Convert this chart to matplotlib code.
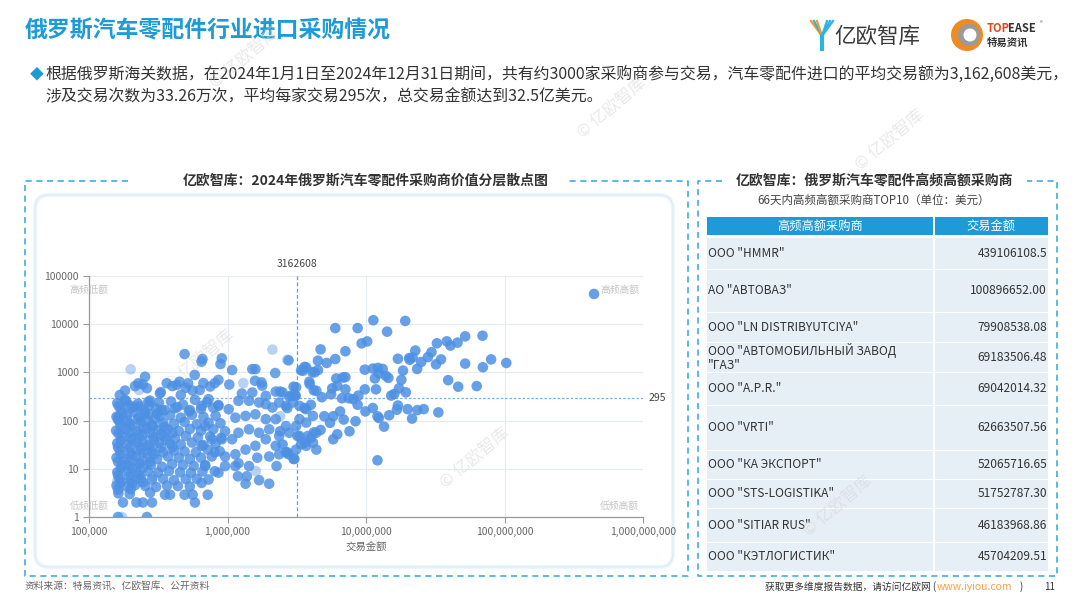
import matplotlib.pyplot as plt
from matplotlib.patches import Rectangle, FancyBboxPatch, Circle
from matplotlib.lines import Line2D
from matplotlib.ticker import FixedLocator, NullLocator

plt.rcParams['font.family'] = ['Noto Sans CJK SC', 'DejaVu Sans']

# ---- values: (transaction amount USD, number of trades) ----
dense_cluster = [
    (4.9e5, 2400), (2.27e5, 594), (3.25e5, 368), (1.67e5, 339), (2.54e5, 815), (3.64e5, 595),
    (4.3e5, 550), (5.2e5, 595), (5.8e5, 885), (6.5e5, 1670), (4.6e5, 340), (1.82e5, 268),
    (2.15e5, 194), (2.68e5, 245), (3.35e5, 166), (4.17e5, 180), (5.35e5, 166), (1.63e5, 120),
    (1.82e5, 420), (2.15e5, 520), (2.45e5, 560), (2.62e5, 470), (3.3e5, 390), (4.0e5, 520),
    (4.5e5, 640), (5.0e5, 480), (5.6e5, 420), (6.3e5, 430),
    (1.6e5, 230), (1.85e5, 255), (2.26e5, 225), (2.76e5, 260), (3.2e5, 235), (3.91e5, 250),
    (4.77e5, 215), (5.82e5, 270), (7.1e5, 240), (8.6e5, 210),
    (1.7e5, 170), (2.04e5, 185), (2.5e5, 160), (3.05e5, 180), (3.54e5, 165), (4.32e5, 190),
    (5.27e5, 155), (6.44e5, 175), (7.9e5, 185),
    (1.58e5, 120), (1.88e5, 130), (2.3e5, 118), (2.7e5, 135), (3.25e5, 122), (3.85e5, 128),
    (4.6e5, 115), (5.54e5, 132), (6.7e5, 120), (8.2e5, 126),
    (1.67e5, 92), (1.97e5, 85), (2.37e5, 95), (2.85e5, 82), (3.43e5, 90), (4.11e5, 86),
    (4.9e5, 94), (6.0e5, 84), (7.3e5, 90), (8.9e5, 88),
    (1.57e5, 62), (1.85e5, 66), (2.22e5, 60), (2.62e5, 68), (3.15e5, 63), (3.72e5, 65),
    (4.45e5, 61), (5.35e5, 67), (6.44e5, 62), (7.9e5, 66), (9.6e5, 60),
    (1.72e5, 47), (2.0e5, 44), (2.42e5, 48), (2.9e5, 45), (3.48e5, 47), (4.17e5, 43),
    (5.0e5, 48), (6.12e5, 45), (7.5e5, 47), (9.0e5, 44),
    (1.6e5, 34), (1.88e5, 32), (2.22e5, 35), (2.66e5, 31), (3.2e5, 34), (3.85e5, 33),
    (4.6e5, 32), (5.54e5, 35), (6.7e5, 31), (8.2e5, 33),
    (1.67e5, 24), (2.0e5, 22), (2.37e5, 25), (2.85e5, 23), (3.43e5, 22), (4.11e5, 24),
    (4.9e5, 23), (5.9e5, 22), (7.2e5, 25), (8.8e5, 23),
    (1.58e5, 17), (1.85e5, 16), (2.18e5, 18), (2.62e5, 17), (3.1e5, 16), (3.72e5, 18),
    (4.45e5, 17), (5.35e5, 16), (6.44e5, 17), (7.7e5, 18),
    (1.72e5, 12), (1.97e5, 11.5), (2.33e5, 12.5), (2.8e5, 12), (3.37e5, 11), (3.98e5, 12.5),
    (4.77e5, 12), (5.7e5, 11.5), (6.9e5, 12),
    (1.6e5, 8.5), (1.88e5, 9), (2.22e5, 8.2), (2.66e5, 8.8), (3.15e5, 8.4), (3.78e5, 9),
    (4.54e5, 8.5), (5.45e5, 8.3), (6.6e5, 8.8),
    (1.67e5, 6.2), (2.0e5, 5.9), (2.37e5, 6.3), (2.85e5, 6), (3.43e5, 6.2), (4.11e5, 5.8),
    (5.0e5, 6.1), (6.0e5, 6.2),
    (1.58e5, 4.5), (1.85e5, 4.3), (2.15e5, 4.6), (2.55e5, 4.4), (3.05e5, 4.2), (3.66e5, 4.5),
    (4.38e5, 4.4), (5.35e5, 4.3),
    (1.63e5, 3.1), (1.97e5, 3.0), (2.76e5, 3.2), (3.54e5, 2.9), (3.85e5, 2.9), (4.9e5, 2.9),
    (5.6e5, 2.9), (1.76e5, 2), (2.2e5, 2), (2.45e5, 2), (2.85e5, 2), (5.82e5, 2),
    (1.62e5, 1), (2.62e5, 1),
    (1.64e5, 200), (1.95e5, 210), (2.3e5, 195), (2.7e5, 205), (3.1e5, 140), (1.75e5, 145),
    (2.1e5, 150), (2.55e5, 145), (1.62e5, 105), (1.9e5, 100), (2.25e5, 108), (2.65e5, 102),
    (3.0e5, 110), (1.7e5, 75), (2.05e5, 78), (2.45e5, 73), (2.9e5, 76), (3.5e5, 74),
    (1.63e5, 54), (1.95e5, 56), (2.3e5, 53), (2.75e5, 55), (3.3e5, 52), (4.0e5, 55),
    (1.7e5, 39), (2.05e5, 40), (2.45e5, 38), (2.95e5, 39), (3.6e5, 40), (1.62e5, 28),
    (1.95e5, 27), (2.3e5, 29), (2.75e5, 28), (3.3e5, 27), (4.0e5, 28), (1.7e5, 20),
    (2.05e5, 19.5), (2.45e5, 21), (2.95e5, 20), (1.62e5, 14), (1.95e5, 14.5), (2.3e5, 13.5),
    (2.75e5, 14), (1.7e5, 10.3), (2.05e5, 10), (2.45e5, 10.5), (1.62e5, 7.2), (1.95e5, 7),
    (2.3e5, 7.3), (1.7e5, 5.2), (2.05e5, 5), (2.45e5, 5.3), (1.62e5, 3.7), (2.0e5, 3.8),
]

middle_buyers = [
    (2.76e6, 1780), (6.6e5, 1900), (9.1e5, 1960), (8.9e5, 1490), (1.08e6, 1120), (1.51e6, 1170),
    (1.59e6, 1170), (2.21e6, 970), (3.5e6, 1080), (3.7e6, 1270), (4.26e6, 1000), (1.58e6, 670),
    (1.76e6, 620), (1.78e6, 530), (1.03e6, 560), (8.6e5, 700), (8.1e5, 600), (6.7e5, 600),
    (7.5e5, 510), (1.27e6, 365), (1.51e6, 383), (1.89e6, 327), (2.23e6, 400), (2.5e6, 383),
    (3.13e6, 490), (3.09e6, 327), (2.79e6, 316), (3.92e6, 570), (4.38e6, 415), (2.36e6, 237),
    (2.64e6, 202), (2.96e6, 237), (3.31e6, 202), (3.7e6, 172), (4.14e6, 125), (2.11e6, 187),
    (1.89e6, 219), (1.69e6, 237), (1.43e6, 257), (1.2e6, 257), (1.02e6, 172), (8.6e5, 202),
    (7.3e5, 278), (6.5e5, 202), (1.14e6, 115), (1.35e6, 125), (1.59e6, 135), (1.89e6, 107),
    (2.23e6, 107), (2.64e6, 77), (3.13e6, 77), (3.7e6, 91), (4.38e6, 56), (3.31e6, 48),
    (2.79e6, 56), (2.36e6, 48), (2.0e6, 66), (1.69e6, 56), (1.43e6, 66), (1.2e6, 56),
    (1.08e6, 41), (9.1e5, 41), (7.7e5, 41), (6.9e5, 77), (6.5e5, 30), (8.1e5, 22),
    (9.6e5, 18), (1.14e6, 20), (1.35e6, 25), (1.59e6, 30), (1.89e6, 41), (2.23e6, 30),
    (2.64e6, 22), (3.13e6, 25), (3.7e6, 30), (4.14e6, 35), (3.04e6, 16), (2.36e6, 20),
    (2.0e6, 18), (1.64e6, 17), (1.43e6, 11.4), (1.2e6, 13), (1.14e6, 11.4), (9.6e5, 11.4),
    (8.1e5, 8.9), (6.9e5, 11.4), (7.3e5, 6.0), (8.6e5, 8.3), (6.5e5, 5.1), (7.2e5, 2.9),
    (1.19e6, 7.0), (1.38e6, 7.0), (1.35e6, 4.9), (1.69e6, 5.8), (2.0e6, 4.9), (2.76e6, 20),
    (2.26e6, 11.4), (3.31e6, 107), (3.8e6, 48), (4.38e6, 25),
]

upper_buyers = [
    (4.43e8, 42400),
    (1.13e7, 12100), (1.92e7, 11700), (6.0e6, 8300), (8.7e6, 8300), (1.42e7, 7000),
    (9.3e6, 4000), (1.02e7, 4400), (4.7e6, 3000), (7.1e6, 2750), (4.5e6, 1750),
    (5.2e6, 1570), (6.0e6, 1890), (3.6e6, 1300), (3.4e6, 1110), (4.1e6, 1020), (4.5e6, 1120),
    (9.8e6, 1140), (1.12e7, 1200), (1.22e7, 1240), (1.32e7, 1180), (1.39e7, 850), (1.45e7, 770),
    (1.16e7, 750), (1.24e7, 950), (1.7e7, 1920), (1.85e7, 1090), (2.05e7, 1980), (2.17e7, 2050),
    (2.27e7, 2840), (2.07e7, 1830), (2.5e7, 1640), (2.34e7, 1180), (2.8e7, 2080), (2.97e7, 2630),
    (3.25e7, 4020), (3.48e7, 1860), (3.2e7, 1470), (3.83e7, 4410), (4.07e7, 3600), (4.58e7, 4150),
    (5.2e7, 5590), (6.94e7, 5770), (5.2e7, 1520), (6.98e7, 1280), (8.0e7, 1860), (1.03e8, 1570),
    (3.92e7, 690), (4.63e7, 505), (6.3e7, 520), (1.8e7, 700), (1.73e7, 467), (1.94e7, 386),
    (1.6e7, 357), (1.52e7, 330), (1.18e7, 445), (9.8e6, 445), (7.1e6, 445), (6.1e6, 748),
    (6.8e6, 783), (7.1e6, 796), (6.2e6, 529), (5.7e6, 467), (3.9e6, 640), (4.2e6, 425),
    (3.0e6, 505), (2.4e6, 400), (2.9e6, 330), (3.1e6, 330), (4.8e6, 305), (5.6e6, 352),
    (6.7e6, 291), (7.5e6, 291), (8.1e6, 278), (8.8e6, 330), (8.7e6, 213), (9.9e6, 155),
    (1.12e7, 182), (1.21e7, 123), (1.24e7, 113), (1.35e7, 75), (1.47e7, 129), (1.67e7, 168),
    (1.7e7, 206), (2.0e7, 173), (2.15e7, 110), (2.35e7, 165), (2.61e7, 173), (3.33e7, 148),
    (1.21e7, 15), (2.7e6, 182), (3.6e6, 182), (4.0e6, 213), (5.0e6, 123), (5.5e6, 90),
    (5.8e6, 123), (6.5e6, 155), (6.9e6, 105), (8.4e6, 97), (7.6e6, 60), (6.2e6, 52),
    (5.8e6, 41), (4.7e6, 64), (4.2e6, 57), (4.0e6, 44), (3.6e6, 35), (3.2e6, 48),
    (3.4e6, 32), (3.0e6, 16), (2.7e6, 22), (2.5e6, 32), (2.4e6, 60),
]

faint_buyers = [
    (2.0e5, 1160), (2.11e6, 2970), (2.7e6, 1830), (2.4e6, 123), (1.73e5, 1),
    (1.6e5, 5.5), (2.9e5, 7), (1.6e6, 9), (2.3e5, 430), (1.3e6, 600),
]

avg_amount = 3162608
avg_trades = 295

x_ticks = [1e5, 1e6, 1e7, 1e8, 1e9]
x_tick_labels = ['100,000', '1,000,000', '10,000,000', '100,000,000', '1,000,000,000']
y_ticks = [1, 10, 100, 1000, 10000, 100000]
y_tick_labels = ['1', '10', '100', '1000', '10000', '100000']
quadrant_labels = ['高频低额', '高频高额', '低频低额', '低频高额']

top_buyers = ['OOO "HMMR"', 'AO "АВТОВАЗ"', 'OOO "LN DISTRIBYUTCIYA"',
              'ООО "АВТОМОБИЛЬНЫЙ ЗАВОД\n"ГАЗ"', 'OOO "A.P.R."', 'OOO "VRTI"',
              'ООО "КА ЭКСПОРТ"', 'OOO "STS-LOGISTIKA"', 'OOO "SITIAR RUS"', 'ООО "КЭТЛОГИСТИК"']
top_amounts = ['439106108.5', '100896652.00', '79908538.08', '69183506.48', '69042014.32',
               '62663507.56', '52065716.65', '51752787.30', '46183968.86', '45704209.51']

BLUE = '#1E9BD7'
DOT = '#4D90E3'
GREY = '#666666'

fig = plt.figure(figsize=(10.8, 6.06), dpi=100)
bg = fig.add_axes([0, 0, 1, 1])
bg.set_xlim(0, 1080)
bg.set_ylim(606, 0)
bg.axis('off')

# header
bg.text(25, 31, '俄罗斯汽车零配件行业进口采购情况', fontsize=16.5, fontweight='bold',
        color=BLUE, va='center')
bg.text(30, 74, '◆', fontsize=10, color=BLUE, va='center')
bg.text(45, 74, '根据俄罗斯海关数据，在2024年1月1日至2024年12月31日期间，共有约3000家采购商参与交易，'
        '汽车零配件进口的平均交易额为3,162,608美元，', fontsize=11.45, color='#333333', va='center')
bg.text(45, 97, '涉及交易次数为33.26万次，平均每家交易295次，总交易金额达到32.5亿美元。',
        fontsize=11.45, color='#333333', va='center')

# logos
for dx, c in zip([0, 3, 6], ['#F29A2E', '#2BB3E6', '#F29A2E']):
    bg.add_line(Line2D([811 + dx, 822], [21, 36], color=c, lw=1.6))
    bg.add_line(Line2D([833 - dx, 822], [21, 36], color='#2BB3E6', lw=1.6))
bg.add_line(Line2D([822, 822], [36, 49], color='#2BB3E6', lw=3))
bg.text(834, 37, '亿欧智库', fontsize=15.5, color='#3a3a3a', va='center')
bg.add_patch(Circle((967, 35), 16, fc='#F08A22', ec='none'))
bg.add_patch(Circle((969, 35), 11, fc='#9a9a9a', ec='none'))
bg.add_patch(Circle((970, 35), 6.5, fc='white', ec='none'))
bg.text(987, 29, 'TOP', fontsize=8, fontweight='bold', color='#E5461E', va='center')
bg.text(1008, 29, 'EASE', fontsize=8, fontweight='bold', color='#333333', va='center')
bg.text(1040, 24, '®', fontsize=4, color='#333333', va='center')
bg.text(987, 43, '特易资讯', fontsize=7.5, fontweight='bold', color='#333333', va='center')


def dashed(xs, ys):
    bg.add_line(Line2D(xs, ys, color='#2DA7E0', lw=1.1, ls=(0, (4, 3))))


# left panel frame
dashed([128, 25, 25, 688, 688, 565], [181, 181, 576, 576, 181, 181])
bg.text(366, 181, '亿欧智库：2024年俄罗斯汽车零配件采购商价值分层散点图', fontsize=10,
        fontweight='bold', color='#333333', ha='center', va='center')
bg.add_patch(FancyBboxPatch((35, 195), 638, 372, boxstyle='round,pad=0,rounding_size=14',
                            fc='white', ec='#eef6fb', lw=3))
bg.add_patch(FancyBboxPatch((35, 195), 638, 372, boxstyle='round,pad=0,rounding_size=14',
                            fc='none', ec='#d8ecf8', lw=0.8))

# right panel frame
dashed([722, 698, 698, 1057, 1057, 1027], [181, 181, 576, 576, 181, 181])
bg.text(874, 181, '亿欧智库：俄罗斯汽车零配件高频高额采购商', fontsize=10, fontweight='bold',
        color='#333333', ha='center', va='center')
bg.text(874, 200, '66天内高频高额采购商TOP10（单位：美元）', fontsize=8.3, color='#444444',
        ha='center', va='center')

# table
col_l, col_m, col_r = 707, 934, 1048
bg.add_patch(Rectangle((col_l, 217), col_m - col_l - 1, 18, fc=BLUE, ec='none'))
bg.add_patch(Rectangle((col_m + 1, 217), col_r - col_m - 1, 18, fc=BLUE, ec='none'))
bg.text((col_l + col_m) / 2, 226, '高频高额采购商', fontsize=8.8, color='white', ha='center', va='center')
bg.text((col_m + col_r) / 2, 226, '交易金额', fontsize=8.8, color='white', ha='center', va='center')
row_edges = [238, 270, 313, 343, 373, 406, 451, 480, 509, 543, 572]
for i, (name, amt) in enumerate(zip(top_buyers, top_amounts)):
    y0, y1 = row_edges[i], row_edges[i + 1] - 1.5
    bg.add_patch(Rectangle((col_l, y0), col_m - col_l - 1, y1 - y0, fc='#E6EEF6', ec='none'))
    bg.add_patch(Rectangle((col_m + 1, y0), col_r - col_m - 1, y1 - y0, fc='#E6EEF6', ec='none'))
    ym = (y0 + y1) / 2
    bg.text(col_l + 1, ym, name, fontsize=8.6, color='#333333', va='center', linespacing=1.05)
    bg.text(col_r - 1, ym, amt, fontsize=8.6, color='#333333', va='center', ha='right')

# footer
bg.text(25, 586, '资料来源：特易资讯、亿欧智库、公开资料', fontsize=7, color=GREY, va='center')
bg.text(936, 587, '获取更多维度报告数据，请访问亿欧网 (', fontsize=7, color='#333333',
        va='center', ha='right')
bg.text(937, 587, 'www.iyiou.com', fontsize=7.5, color='#F5A04A', va='center')
bg.text(1020, 587, ')', fontsize=7, color='#333333', va='center')
bg.text(1050, 587, '11', fontsize=7, color='#333333', va='center', ha='center')

# watermarks
for wx, wy in [(245, 58), (612, 108), (200, 360), (475, 458), (838, 506), (890, 140)]:
    bg.text(wx, wy, '© 亿欧智库', fontsize=12, color='#d4d4d4', alpha=0.5, rotation=40,
            ha='center', va='center')

# scatter
ax = fig.add_axes([89 / 1080, 1 - 517 / 606, 554 / 1080, 241 / 606])
ax.set_facecolor('none')
ax.set_xscale('log')
ax.set_yscale('log')
ax.set_xlim(x_ticks[0], x_ticks[-1])
ax.set_ylim(y_ticks[0], y_ticks[-1])

for pts, a in [(dense_cluster, 0.82), (middle_buyers, 0.82), (upper_buyers, 0.85), (faint_buyers, 0.4)]:
    xs = [p[0] for p in pts]
    ys = [p[1] for p in pts]
    ax.scatter(xs, ys, s=58, color=DOT, alpha=a, edgecolors='none', zorder=3)

ax.axvline(avg_amount, color='#5E9BE8', lw=0.9, ls=(0, (3, 2)), zorder=2)
ax.axhline(avg_trades, color='#7BAEEB', lw=0.9, ls=(0, (2, 1.5)), zorder=2)
ax.annotate(str(avg_amount), xy=(avg_amount, 1), xycoords=('data', 'axes fraction'),
            xytext=(0, 9), textcoords='offset points', ha='center', va='center',
            fontsize=7.5, color='#444444')
ax.annotate(str(avg_trades), xy=(1, avg_trades), xycoords=('axes fraction', 'data'),
            xytext=(4, 0), textcoords='offset points', ha='left', va='center',
            fontsize=7.5, color='#444444')

ax.xaxis.set_major_locator(FixedLocator(x_ticks))
ax.yaxis.set_major_locator(FixedLocator(y_ticks))
ax.xaxis.set_minor_locator(NullLocator())
ax.yaxis.set_minor_locator(NullLocator())
ax.set_xticklabels(x_tick_labels)
ax.set_yticklabels(y_tick_labels)
ax.tick_params(labelsize=7.5, labelcolor=GREY, color='#999999', length=4, width=0.8)
ax.grid(True, color='#E6EAF3', lw=0.8, zorder=0)
ax.set_axisbelow(True)
for side in ['top', 'right']:
    ax.spines[side].set_visible(False)
for side in ['left', 'bottom']:
    ax.spines[side].set_color('#9a9a9a')
    ax.spines[side].set_linewidth(0.9)
ax.set_xlabel('交易金额', fontsize=7.5, color=GREY, labelpad=3)

quad_pos = [(0.0, 0.942), (0.958, 0.942), (0.0, 0.046), (0.958, 0.046)]
for (qx, qy), lab in zip(quad_pos, quadrant_labels):
    ax.text(qx, qy, lab, transform=ax.transAxes, fontsize=7, color='#c4c4c4',
            ha='center', va='center', zorder=4)

fig.savefig('out.png', dpi=100)
